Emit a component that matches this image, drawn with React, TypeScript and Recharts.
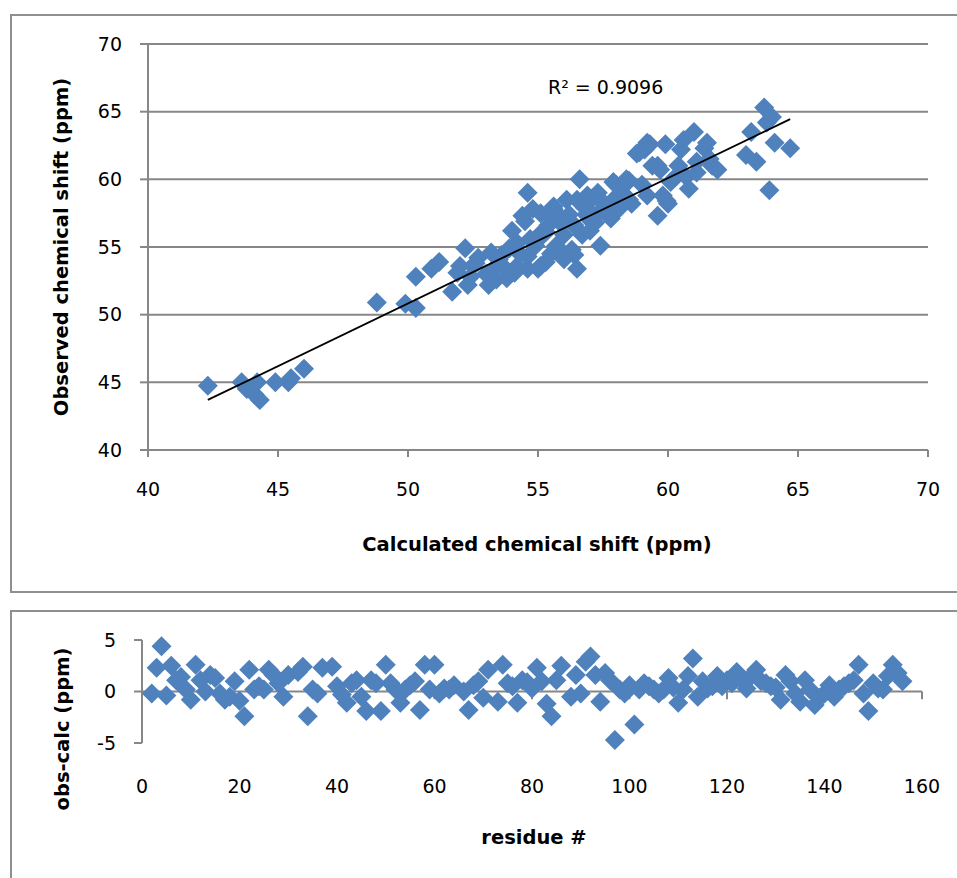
import React from "react";
import { CartesianGrid, ReferenceLine, Scatter, ScatterChart, XAxis, YAxis } from "recharts";

// top panel: calculated vs observed shift (ppm)
const calcShift = [
  42.3, 43.6, 43.8, 44.1, 44.2, 44.3, 44.9, 45.4, 45.5, 46.0, 48.8, 49.9, 50.3, 50.3, 50.9, 51.2,
  51.7, 52.2, 51.9, 52.3, 52.5, 52.7, 52.4, 53.1, 53.3, 53.6, 53.8, 54.0, 54.2, 54.3, 54.5, 54.6,
  54.6, 54.9, 55.0, 55.1, 55.2, 55.3, 55.4, 55.6, 55.7, 55.9, 56.0, 56.1, 56.3, 56.4, 56.5, 56.4,
  56.5, 56.6, 56.7, 56.9, 57.1, 57.2, 57.3, 57.4, 57.6, 57.8, 57.9, 58.0, 58.3, 58.5, 58.6, 58.8,
  59.1, 59.0, 59.2, 59.3, 59.4, 59.6, 59.7, 59.8, 59.9, 60.0, 60.1, 60.4, 60.6, 60.7, 60.8, 61.0,
  61.1, 61.4, 61.5, 61.7, 61.9, 63.0, 63.2, 63.4, 63.7, 63.8, 63.9, 64.0, 64.1, 64.7,
  54.6, 55.1, 58.5, 55.5, 56.9, 57.9, 55.1, 54.2, 53.2, 52.6, 52.0, 55.7, 57.0, 57.3, 53.5, 54.4,
  54.8, 55.6, 56.9, 58.1, 53.8, 59.6, 60.5, 61.6, 58.4, 59.95, 60.3, 61.1, 58.9, 59.2,
  53.0, 53.9, 54.7, 55.3, 55.8, 56.2, 56.8, 57.5, 53.4, 54.1, 55.5, 56.0, 57.0, 58.2
];
const obsShift = [
  44.75, 45.0, 44.5, 44.1, 45.0, 43.7, 45.0, 45.0, 45.3, 46.0, 50.9, 50.8, 50.5, 52.8, 53.4, 53.9,
  51.7, 54.9, 53.1, 52.2, 53.6, 54.2, 52.8, 52.2, 53.4, 54.4, 52.7, 56.2, 53.6, 54.5, 56.9, 59.0,
  53.4, 55.1, 53.4, 57.5, 55.9, 53.9, 56.6, 57.8, 55.1, 57.1, 55.9, 58.5, 54.8, 56.6, 58.5, 54.4,
  53.4, 60.0, 55.9, 57.3, 58.6, 56.8, 59.0, 55.1, 57.9, 57.1, 58.5, 59.6, 58.9, 59.9, 58.2, 61.9,
  62.2, 59.6, 58.8, 62.6, 61.0, 57.3, 60.7, 58.8, 62.6, 58.2, 59.8, 61.0, 62.9, 60.2, 59.3, 63.5,
  61.3, 62.3, 62.7, 61.0, 60.7, 61.8, 63.5, 61.3, 65.3, 64.2, 59.2, 64.6, 62.7, 62.3,
  54.3, 53.6, 58.5, 57.3, 58.8, 59.8, 56.0, 55.3, 54.6, 53.8, 53.6, 54.8, 57.0, 57.5, 54.1, 57.3,
  57.8, 58.0, 57.5, 57.8, 53.3, 61.0, 62.2, 61.5, 60.0, 58.4, 60.2, 60.5, 62.0, 62.7,
  53.0, 54.9, 55.6, 56.1, 56.9, 57.4, 57.9, 58.3, 52.6, 53.1, 54.5, 54.1, 56.2, 58.6
];
const trendCalc = [42.3, 64.7];
const trendObs = [43.7, 64.45];
const shiftTicks = [40, 45, 50, 55, 60, 65, 70];

// bottom panel: residual per residue
const residueNum = [
  2, 3, 4, 5, 6, 7, 8, 9, 10, 11, 12, 13, 14, 15, 16, 17, 18, 19, 20, 21, 22, 23, 24, 25, 26, 27,
  28, 29, 30, 32, 33, 34, 35, 36, 37, 39, 40, 41, 42, 43, 44, 45, 46, 47, 48, 49, 50, 51, 52, 53,
  54, 55, 56, 57, 58, 59, 60, 61, 62, 63, 64, 66, 67, 68, 69, 70, 71, 73, 74, 75, 76, 77, 78, 79,
  80, 81, 82, 83, 84, 85, 86, 88, 89, 90, 91, 92, 93, 94, 95, 96, 97, 98, 99, 100, 101, 102, 103,
  104, 105, 106, 107, 108, 109, 110, 111, 112, 113, 114, 115, 116, 117, 118, 119, 120, 121, 122,
  123, 124, 125, 126, 127, 128, 129, 130, 131, 132, 133, 134, 135, 136, 137, 138, 139, 140, 141,
  142, 143, 144, 145, 146, 147, 148, 149, 150, 151, 152, 153, 154, 155, 156
];
const residualPpm = [
  -0.2, 2.3, 4.4, -0.4, 2.5, 1.1, 1.4, 0.2, -0.8, 2.6, 1.1, 0.0, 1.6, 1.3, -0.2, -0.8, -0.5, 1.0,
  -0.9, -2.4, 2.1, 0.2, 0.5, 0.2, 2.1, 1.6, 0.8, -0.5, 1.6, 1.9, 2.4, -2.4, 0.2, -0.2, 2.3, 2.4,
  0.5, -0.3, -1.1, 0.8, 1.1, -0.5, -1.9, 1.1, 0.8, -1.9, 2.6, 0.8, 0.2, -1.1, 0.2, 0.6, 1.0, -1.8,
  2.6, 0.2, 2.6, -0.2, 0.3, 0.2, 0.6, 0.0, -1.8, 0.6, 1.0, -0.6, 2.1, -1.0, 2.6, 0.8, 0.5, -1.1,
  1.1, 0.9, 0.3, 2.3, 1.0, -1.2, -2.4, 1.1, 2.5, -0.5, 1.6, -0.2, 2.9, 3.4, 1.6, -1.0, 1.8, 1.1,
  -4.7, 0.2, -0.2, 0.6, -3.2, 0.2, 0.8, 0.5, 0.2, -0.2, 0.2, 1.3, 0.4, -1.1, 0.2, 1.5, 3.2, -0.5,
  1.0, 0.3, 0.5, 1.5, 0.5, 1.1, 0.8, 1.9, 1.2, 0.3, 1.5, 2.1, 1.0, 0.8, 0.5, 0.4, -0.8, 1.6, 1.0,
  -0.2, -1.0, 1.1, 0.2, -1.3, -0.6, -0.2, 0.6, -0.5, 0.2, 0.5, 0.8, 1.1, 2.6, -0.2, -1.9, 0.8, 0.3,
  0.2, 1.5, 2.6, 1.8, 1.0
];
const residueTicks = [0, 20, 40, 60, 80, 100, 120, 140, 160];
const residualTicks = [-5, 0, 5];

const BLUE = "#4f81bd";
const AXIS = "#878787";
const FONT = "'DejaVu Sans', sans-serif";
const tickStyle = { fill: "#000", fontSize: 19, fontFamily: FONT };
const titleStyle: React.CSSProperties = {
  position: "absolute",
  fontFamily: FONT,
  fontWeight: "bold",
  fontSize: 19.5,
  lineHeight: "22px",
  whiteSpace: "nowrap",
  color: "#000"
};

function Diamond(props: any) {
  const { cx, cy } = props;
  if (cx == null || cy == null) return <g />;
  const h = 10;
  return (
    <polygon
      points={`${cx},${cy - h} ${cx + h},${cy} ${cx},${cy + h} ${cx - h},${cy}`}
      fill={BLUE}
    />
  );
}

const NoDot = () => <g />;

export default function App() {
  const shiftData = calcShift.map((c, i) => ({ x: c, y: obsShift[i] }));
  const trendData = trendCalc.map((c, i) => ({ x: c, y: trendObs[i] }));
  const residualData = residueNum.map((r, i) => ({ x: r, y: residualPpm[i] }));

  return (
    <div style={{ position: "absolute", left: 0, top: 0, width: 957, height: 878, overflow: "hidden", background: "#fff" }}>
      {/* chart frames */}
      <div style={{ position: "absolute", left: 10, top: 14, width: 960, height: 575, border: "2px solid #8f8f8f" }} />
      <div style={{ position: "absolute", left: 10, top: 610, width: 960, height: 300, border: "2px solid #8f8f8f" }} />

      <div style={{ position: "absolute", left: 0, top: 0 }}>
        <ScatterChart width={957} height={600} margin={{ top: 44, right: 29, left: 88, bottom: 110 }}>
          <CartesianGrid horizontal vertical={false} stroke={AXIS} strokeWidth={2} />
          <XAxis
            type="number"
            dataKey="x"
            domain={[40, 70]}
            ticks={shiftTicks}
            height={40}
            stroke={AXIS}
            strokeWidth={2}
            tickSize={7}
            tickMargin={26}
            tick={tickStyle}
          />
          <YAxis
            type="number"
            dataKey="y"
            domain={[40, 70]}
            ticks={shiftTicks}
            width={60}
            stroke={AXIS}
            strokeWidth={2}
            tickSize={8}
            tickMargin={18}
            tick={tickStyle}
          />
          <Scatter data={shiftData} shape={Diamond} isAnimationActive={false} />
          <Scatter
            data={trendData}
            shape={NoDot}
            line={{ stroke: "#000", strokeWidth: 1.8 }}
            isAnimationActive={false}
          />
        </ScatterChart>
      </div>

      <div style={{ position: "absolute", left: 0, top: 600 }}>
        <ScatterChart width={957} height={278} margin={{ top: 40, right: 35, left: 82, bottom: 95 }}>
          <XAxis
            type="number"
            dataKey="x"
            domain={[0, 160]}
            ticks={residueTicks}
            height={40}
            axisLine={false}
            tickLine={false}
            tickSize={0}
            tickMargin={37}
            tick={tickStyle}
          />
          <YAxis
            type="number"
            dataKey="y"
            domain={[-5, 5]}
            ticks={residualTicks}
            width={60}
            stroke={AXIS}
            strokeWidth={2}
            tickSize={8}
            tickMargin={18}
            tick={tickStyle}
          />
          <ReferenceLine y={0} stroke={AXIS} strokeWidth={2} />
          {residueTicks.map((t) => (
            <ReferenceLine
              key={t}
              segment={[
                { x: t, y: 0 },
                { x: t, y: -0.75 }
              ]}
              stroke={AXIS}
              strokeWidth={2}
            />
          ))}
          <Scatter data={residualData} shape={Diamond} isAnimationActive={false} />
        </ScatterChart>
      </div>

      <div style={{ ...titleStyle, left: 548, top: 76, fontSize: 19, fontWeight: "normal" }}>R² = 0.9096</div>
      <div style={{ ...titleStyle, left: 537, top: 545, transform: "translate(-50%, -50%)" }}>
        Calculated chemical shift (ppm)
      </div>
      <div style={{ ...titleStyle, left: 62, top: 247, transform: "translate(-50%, -50%) rotate(-90deg)" }}>
        Observed chemical shift (ppm)
      </div>
      <div style={{ ...titleStyle, left: 63, top: 729, transform: "translate(-50%, -50%) rotate(-90deg)" }}>
        obs-calc (ppm)
      </div>
      <div style={{ ...titleStyle, left: 534, top: 838, transform: "translate(-50%, -50%)" }}>residue #</div>
    </div>
  );
}
